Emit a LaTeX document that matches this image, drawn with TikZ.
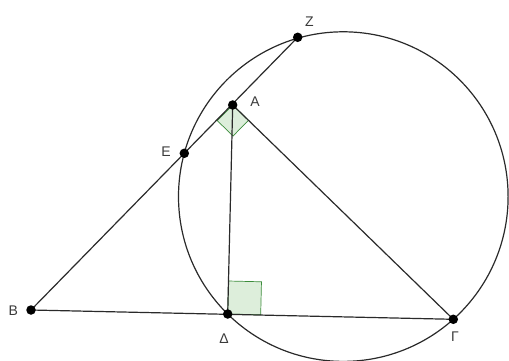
\documentclass[tikz,border=0pt]{standalone}
\usepackage{fontspec}
\setmainfont{Liberation Sans}
\usetikzlibrary{calc}
\definecolor{ln}{HTML}{2A2A2A}
\definecolor{mk}{HTML}{DDEEDB}
\definecolor{mkd}{HTML}{3C8C3C}
\definecolor{tx}{HTML}{3A3A3A}
\begin{document}
\begin{tikzpicture}[x=1pt,y=-1pt,
  seg/.style={draw=ln,line width=1.2pt},
  ang/.style={draw=mkd,fill=mk,line width=0.7pt},
  pt/.style={circle,fill=black,inner sep=0pt,minimum size=9.5pt},
  lab/.style={text=tx,font=\fontsize{14}{14}\selectfont,inner sep=0pt}]
\useasboundingbox (0,0) rectangle (509,361);
\coordinate (B) at (31,310);
\coordinate (D) at (227.7,314);
\coordinate (G) at (453.3,319.3);
\coordinate (A) at (232.7,105);
\coordinate (E) at (184.3,153.3);
\coordinate (Z) at (297.7,37.3);
\coordinate (O) at (343.3,196.6);
% right angle markers
\coordinate (a1) at ($(A)!22pt!(B)$);
\coordinate (a2) at ($(A)!22pt!(G)$);
\coordinate (a3) at ($(a1)+(a2)-(A)$);
\path[ang] (A) -- (a1) -- (a3) -- (a2) -- cycle;
\coordinate (d1) at ($(D)!33pt!(A)$);
\coordinate (d2) at ($(D)!33pt!(G)$);
\coordinate (d3) at ($(d1)+(d2)-(D)$);
\path[ang] (D) -- (d1) -- (d3) -- (d2) -- cycle;
% circle
\draw[ln,line width=1.2pt] (O) circle[radius=164.8];
% segments
\draw[seg] (B) -- (Z);
\draw[seg] (B) -- (G);
\draw[seg] (A) -- (D);
\draw[seg] (A) -- (G);
% points
\foreach \p in {B,D,G,A,E,Z} \node[pt] (n\p) at (\p) {};
% labels
\node[lab] (lB) at (13.3,310.7) {B};
\node[lab] (lD) at (224,339) {Δ};
\node[lab] (lG) at (455,337) {Γ};
\node[lab] (lA) at (255,101.7) {A};
\node[lab] (lE) at (166,152) {E};
\node[lab] (lZ) at (309.3,21.7) {Z};
\end{tikzpicture}
\end{document}
